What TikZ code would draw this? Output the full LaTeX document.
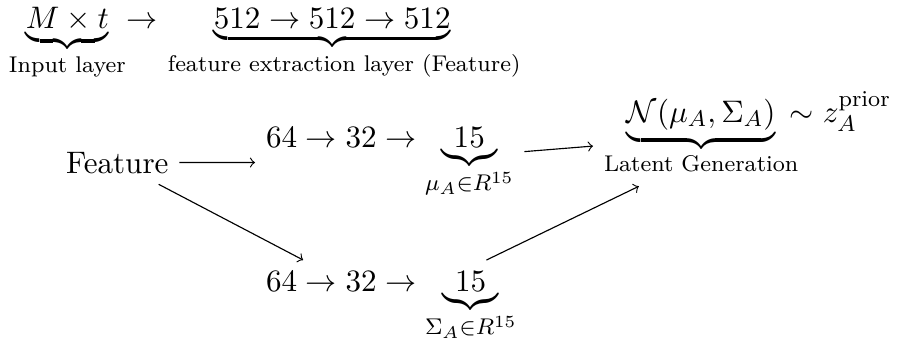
\documentclass[11pt,tikz,border=0pt]{standalone}
\usepackage{amsmath}
\begin{document}
\begin{tikzpicture}[x=0.3519pt,y=-0.3519pt]
\tikzset{lbl/.style={anchor=text}}
\useasboundingbox (0,0) rectangle (899,341);
\node[lbl] (inp) at (9,28) {$\underbrace{M\times t}_{\text{Input layer}}$};
\node[lbl] (arr) at (126,28) {$\rightarrow$};
\node[lbl] (fx) at (144,28) {$\underbrace{512\rightarrow512\rightarrow512}_{\kern8.4pt\text{feature extraction layer (Feature)}}$};
\node[lbl] (feat) at (66,173) {Feature};
\node[lbl] (mu) at (266,147) {$64\rightarrow32\rightarrow\underbrace{15}_{\mu_A\in R^{15}}$};
\node[lbl] (sig) at (266,291) {$64\rightarrow32\rightarrow\underbrace{15}_{\Sigma_A\in R^{15}}$};
\node[lbl] (lat) at (604,122) {$\underbrace{\mathcal{N}(\mu_A,\Sigma_A)}_{\text{Latent Generation}}\kern-6pt\sim z_A^{\text{prior}}$};
\draw[->] (feat) -- (mu);
\draw[->] (feat) -- (sig);
\draw[->] (mu) -- (lat);
\draw[->] (sig) -- (lat);
\end{tikzpicture}
\end{document}
